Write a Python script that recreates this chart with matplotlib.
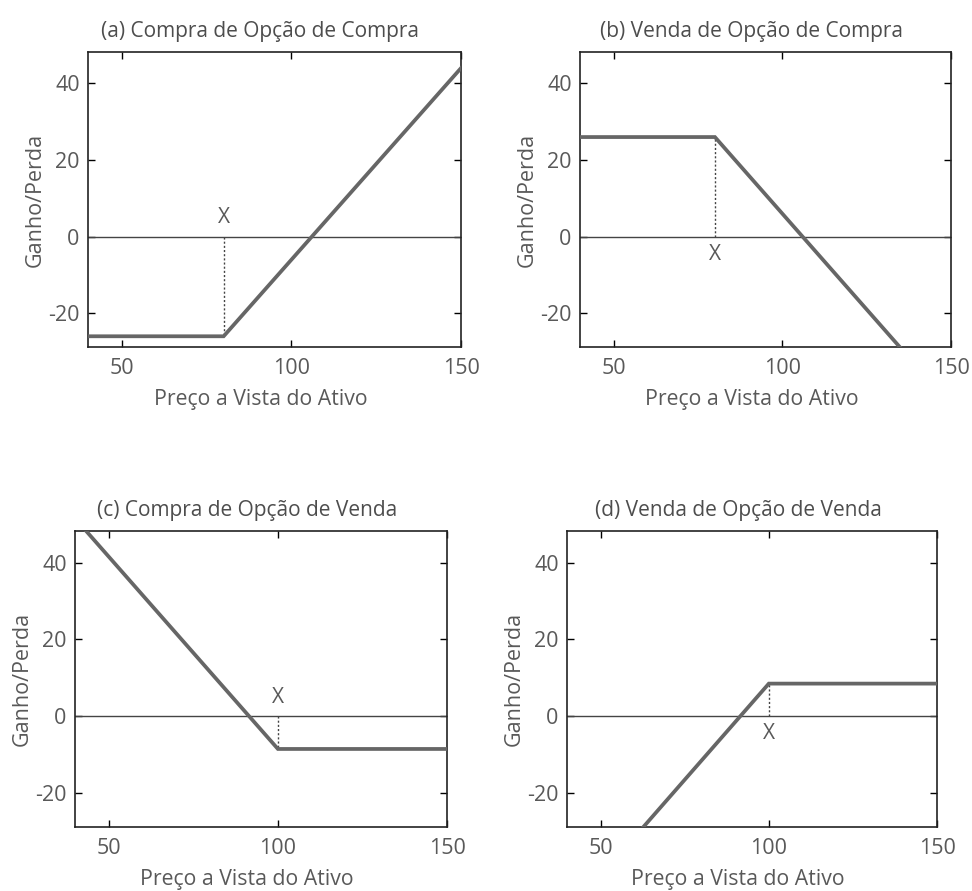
import matplotlib
matplotlib.use("Agg")
import matplotlib.pyplot as plt

plt.rcParams["font.family"] = ["Open Sans", "DejaVu Sans"]
plt.rcParams["axes.unicode_minus"] = False

# ─── Dados ────────────────────────────────────────────────────────────────────
titulos = [
    "(a) Compra de Opção de Compra",
    "(b) Venda de Opção de Compra",
    "(c) Compra de Opção de Venda",
    "(d) Venda de Opção de Venda",
]
precos_a = [40, 80, 150]
ganho_a = [-26, -26, 44]
precos_b = [40, 80, 150]
ganho_b = [26, 26, -44]
precos_c = [40, 100, 150]
ganho_c = [51.5, -8.5, -8.5]
precos_d = [40, 100, 150]
ganho_d = [-51.5, 8.5, 8.5]

strikes = [80, 80, 100, 100]
ganho_strike = [-26, 26, -8.5, 8.5]
pos_x = [5.0, -4.6, 5.0, -4.6]   # posição vertical do rótulo "X"

xticks = [50, 100, 150]
yticks = [-20, 0, 20, 40]

series = [(precos_a, ganho_a), (precos_b, ganho_b),
          (precos_c, ganho_c), (precos_d, ganho_d)]

# posições dos eixos em pixels (esq, dir, topo, base)
caixas = [(88, 461, 52, 347), (580, 951, 52, 347),
          (75, 447, 531, 827), (567, 937, 531, 827)]

W, H = 972, 891
fig = plt.figure(figsize=(W / 100, H / 100), dpi=100)

cinza_txt = "#595959"
for i in range(4):
    l, r, t, b = caixas[i]
    ax = fig.add_axes([l / W, 1 - b / H, (r - l) / W, (b - t) / H])
    xs, ys = series[i]
    ax.plot(xs, ys, color="#666666", lw=2.7, solid_joinstyle="miter", zorder=3)
    ax.axhline(0, color="#444444", lw=1.0, zorder=2)
    ax.plot([strikes[i], strikes[i]], [0, ganho_strike[i]], color="#444444",
            lw=1.0, ls=(0, (1.5, 1.5)), zorder=2)
    ax.text(strikes[i], pos_x[i], "X", ha="center", va="center",
            fontsize=15, color=cinza_txt)

    ax.set_xlim(40, 150)
    ax.set_ylim(-28.8, 48.2)
    ax.set_xticks(xticks)
    ax.set_yticks(yticks)
    ax.tick_params(direction="in", top=True, right=True, length=5, width=1,
                   labelsize=15.5, labelcolor=cinza_txt)
    ax.tick_params(axis="x", pad=8)
    ax.tick_params(axis="y", pad=6)
    for s in ax.spines.values():
        s.set_linewidth(1.2)
        s.set_color("#222222")
    # título e rótulo x ficam um pouco à esquerda do centro do eixo
    ax.set_title(titulos[i], fontsize=15, color="#4d4d4d", pad=11, x=0.462)
    ax.set_xlabel("Preço a Vista do Ativo", fontsize=15.3, color=cinza_txt, labelpad=7)
    ax.xaxis.label.set_x(0.462)
    ax.set_ylabel("Ganho/Perda", fontsize=15.5, color=cinza_txt, labelpad=2)

fig.savefig("out.png", dpi=100, facecolor="white")
